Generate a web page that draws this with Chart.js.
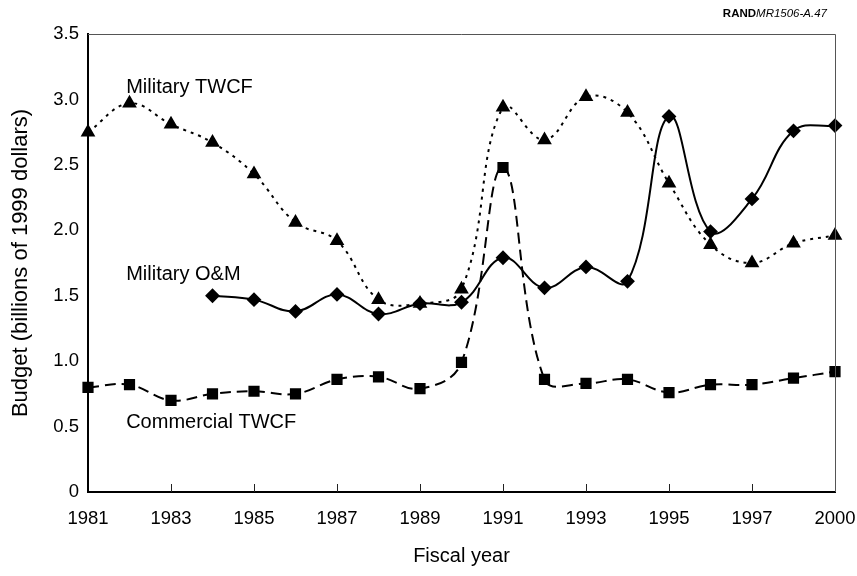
<!DOCTYPE html>
<html>
<head>
<meta charset="utf-8">
<script src="https://cdn.jsdelivr.net/npm/chart.js@4.4.0/dist/chart.umd.min.js"></script>
<style>
  html, body { margin: 0; padding: 0; background: #fff; }
  #wrap { width: 857px; height: 576px; }
</style>
</head>
<body>
<div id="wrap"><canvas id="budgetChart" width="857" height="576"></canvas></div>
<script>
// fiscal years (the last point is FY2000)
const years = ["1981", "1982", "1983", "1984", "1985", "1986", "1987", "1988", "1989", "1990",
               "1991", "1992", "1993", "1994", "1995", "1996", "1997", "1998", "2000"];

// budgets, billions of 1999 dollars
const militaryTwcf = [2.75, 2.97, 2.81, 2.67, 2.43, 2.06, 1.92, 1.47, 1.44, 1.55,
                      2.94, 2.69, 3.02, 2.90, 2.36, 1.89, 1.75, 1.90, 1.96];
const militaryOM = [null, null, null, 1.50, 1.47, 1.38, 1.51, 1.36, 1.44, 1.45,
                    1.79, 1.56, 1.72, 1.61, 2.87, 1.99, 2.24, 2.76, 2.80];
const commercialTwcf = [0.80, 0.82, 0.70, 0.75, 0.77, 0.75, 0.86, 0.88, 0.79, 0.99,
                        2.48, 0.86, 0.83, 0.86, 0.76, 0.82, 0.82, 0.87, 0.92];

const yTicks = [0, 0.5, 1.0, 1.5, 2.0, 2.5, 3.0, 3.5];

// series names written next to the lines: [text, category index, value]
const seriesLabels = [
    ["Military TWCF", 0.92, 3.09],
    ["Military O&M", 0.92, 1.66],
    ["Commercial TWCF", 0.92, 0.53]
];

const FONT = "'Liberation Sans', Arial, sans-serif";

// frame, inner x ticks, series names and the figure number
const decorations = {
    id: "decorations",
    afterDraw(chart) {
        const ctx = chart.ctx;
        const area = chart.chartArea;
        const xs = chart.scales.x;
        const ys = chart.scales.y;

        ctx.save();
        ctx.strokeStyle = "#555";
        ctx.lineWidth = 1;
        ctx.beginPath();
        ctx.moveTo(area.left, area.top + 0.5);
        ctx.lineTo(area.right + 0.5, area.top + 0.5);
        ctx.lineTo(area.right + 0.5, area.bottom);
        ctx.stroke();

        ctx.strokeStyle = "#222";
        ctx.beginPath();
        for (let i = 2; i < years.length - 1; i += 2) {
            const x = Math.round(xs.getPixelForValue(i)) + 0.5;
            ctx.moveTo(x, area.bottom);
            ctx.lineTo(x, area.bottom - 8);
        }
        ctx.stroke();

        ctx.fillStyle = "#000";
        ctx.font = "20px " + FONT;
        ctx.textAlign = "left";
        ctx.textBaseline = "middle";
        seriesLabels.forEach(([text, idx, val]) => {
            ctx.fillText(text, xs.getPixelForValue(idx), ys.getPixelForValue(val));
        });

        ctx.textBaseline = "alphabetic";
        ctx.textAlign = "right";
        ctx.font = "italic 11.5px " + FONT;
        const num = "MR1506-A.47";
        ctx.fillText(num, 827, 17);
        const w = ctx.measureText(num).width;
        ctx.font = "bold 11.5px " + FONT;
        ctx.fillText("RAND", 827 - w, 17);
        ctx.restore();
    }
};

new Chart(document.getElementById("budgetChart"), {
    type: "line",
    data: {
        labels: years,
        datasets: [
            {
                label: "Military TWCF",
                data: militaryTwcf,
                borderColor: "#000",
                backgroundColor: "#000",
                borderWidth: 2,
                borderDash: [3, 5],
                pointStyle: "triangle",
                pointRadius: 6.5,
                tension: 0.4
            },
            {
                label: "Military O&M",
                data: militaryOM,
                borderColor: "#000",
                backgroundColor: "#000",
                borderWidth: 2,
                pointStyle: "rectRot",
                pointRadius: 6,
                tension: 0.4
            },
            {
                label: "Commercial TWCF",
                data: commercialTwcf,
                borderColor: "#000",
                backgroundColor: "#000",
                borderWidth: 2,
                borderDash: [11, 6],
                pointStyle: "rect",
                pointRadius: 6.5,
                tension: 0.4
            }
        ]
    },
    options: {
        responsive: false,
        animation: false,
        devicePixelRatio: 1,
        layout: { padding: { top: 34, right: 22, left: 0, bottom: 0 } },
        plugins: {
            legend: { display: false },
            tooltip: { enabled: false }
        },
        scales: {
            x: {
                type: "category",
                offset: false,
                grid: { display: false, drawTicks: false },
                border: { display: true, color: "#000", width: 2 },
                ticks: {
                    autoSkip: false,
                    maxRotation: 0,
                    padding: 16,
                    color: "#000",
                    font: { family: FONT, size: 18.5 },
                    callback: (v, i) => (i % 2 === 0 ? years[i] : "")
                },
                title: {
                    display: true,
                    text: "Fiscal year",
                    color: "#000",
                    font: { family: FONT, size: 20 },
                    padding: { top: 0, bottom: 8 }
                },
                afterFit(scale) {
                    scale.height = 84;
                    // let the end labels hang over the plot edges
                    scale.paddingLeft = 0;
                    scale.paddingRight = 0;
                }
            },
            y: {
                min: 0,
                max: 3.5,
                grid: { display: false, drawTicks: false },
                border: { display: true, color: "#000", width: 2 },
                afterBuildTicks(scale) {
                    scale.ticks = yTicks.map(v => ({ value: v }));
                },
                ticks: {
                    padding: 9,
                    color: "#000",
                    font: { family: FONT, size: 18.5 },
                    callback: v => (v === 0 ? "0" : v.toFixed(1))
                },
                title: {
                    display: true,
                    text: "Budget (billions of 1999 dollars)",
                    color: "#000",
                    font: { family: FONT, size: 22 },
                    padding: { top: 8, bottom: 0 }
                },
                afterFit(scale) {
                    scale.width = 88;
                    scale.paddingTop = 0;
                    scale.paddingBottom = 0;
                }
            }
        }
    },
    plugins: [decorations]
});
</script>
</body>
</html>
